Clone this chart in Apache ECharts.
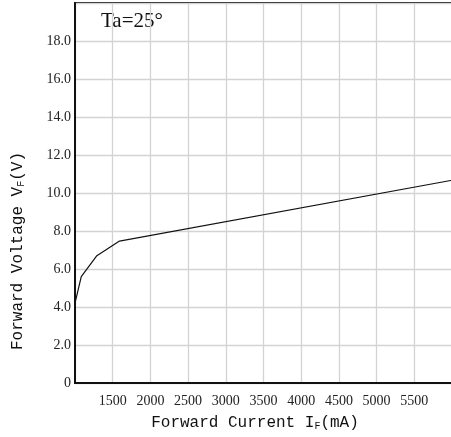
<!DOCTYPE html>
<html><head><meta charset="utf-8">
<script src="https://cdn.jsdelivr.net/npm/echarts@6/dist/echarts.min.js"></script>
<style>html,body{margin:0;padding:0;background:#fff;overflow:hidden}#c{width:455px;height:437px}</style>
</head><body><div id="c"></div>
<script>
// Data
const currentMA = [1000, 1083, 1290, 1590, 6000];
const voltageV  = [4.2, 5.6, 6.7, 7.47, 10.67];
const xTicks = [1500, 2000, 2500, 3000, 3500, 4000, 4500, 5000, 5500];
const yTicks = [0, 2, 4, 6, 8, 10, 12, 14, 16, 18];
const titleText = 'Ta=25°';

const chart = echarts.init(document.getElementById('c'));
const pts = currentMA.map((x, i) => [x, voltageV[i]]);
chart.setOption({
  animation: false,
  grid: { left: 75, right: 0, top: 3, bottom: 54, show: true, borderColor: '#111', borderWidth: 2, backgroundColor: 'transparent' },
  xAxis: {
    type: 'value', min: 1000, max: 6000, interval: 500,
    axisLine: { show: true, lineStyle: { color: '#111', width: 2 } },
    axisTick: { show: false },
    splitLine: { show: true, lineStyle: { color: '#d3d3d3', width: 1.3 } },
    axisLabel: { margin: 11, color: '#222', fontFamily: 'Liberation Serif', fontSize: 14,
      formatter: v => xTicks.includes(v) ? String(v) : '' }
  },
  yAxis: {
    type: 'value', min: 0, max: 20, interval: 2,
    axisLine: { show: true, lineStyle: { color: '#111', width: 2 } },
    axisTick: { show: false },
    splitLine: { show: true, lineStyle: { color: '#d3d3d3', width: 1.3 } },
    axisLabel: { margin: 4, color: '#222', fontFamily: 'Liberation Serif', fontSize: 14,
      formatter: v => yTicks.includes(v) ? (v === 0 ? '0' : v.toFixed(1)) : '' }
  },
  graphic: [
    { type: 'text', left: 101, top: 11, style: { text: titleText, font: '21px "Liberation Serif"', fill: '#111' } },
    { type: 'text', x: 255, y: 423, style: { text: 'Forward Current I{s|F}(mA)', font: '16px "Liberation Mono"', fill: '#111', align: 'center', verticalAlign: 'middle',
        rich: { s: { fontSize: 10, fontFamily: 'Liberation Mono', verticalAlign: 'bottom', padding: [5,0,0,0] } } } },
    { type: 'text', x: 18, y: 251, rotation: Math.PI / 2, style: { text: 'Forward Voltage V{s|F}(V)', font: '16px "Liberation Mono"', fill: '#111', align: 'center', verticalAlign: 'middle',
        rich: { s: { fontSize: 10, fontFamily: 'Liberation Mono', verticalAlign: 'bottom', padding: [5,0,0,0] } } } }
  ],
  series: [{
    type: 'line', data: pts, showSymbol: false, smooth: false,
    lineStyle: { color: '#111', width: 1.2 }
  }]
});
</script></body></html>
